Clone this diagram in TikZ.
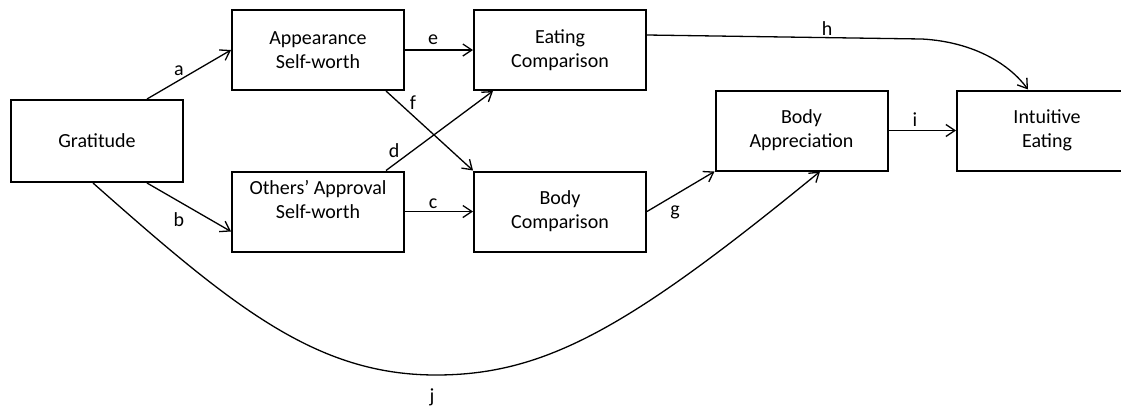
\documentclass[tikz,border=0pt]{standalone}
\usepackage{fontspec}
\setmainfont{Carlito}
\usetikzlibrary{arrows.meta}

\tikzset{
  var/.style={draw, line width=2pt, minimum width=172pt, minimum height=80pt,
    inner sep=0pt, align=center, font=\fontsize{20}{24}\selectfont},
  link/.style={line width=1.3pt, -{Straight Barb[length=9pt,width=12pt]}},
  lbl/.style={inner sep=0pt, font=\fontsize{20}{24}\selectfont}
}

\begin{document}
\begin{tikzpicture}[x=1pt,y=-1pt]
\useasboundingbox (0,0) rectangle (1121,408);
% variables
\node[var, minimum height=82pt] (grat) at (97,141) {Gratitude};
\node[var] (asw) at (318,50) {Appearance\\Self-worth};
\node[var] (oasw) at (318,211.5) {Others’ Approval\\Self-worth\\\mbox{}};
\node[var] (ec) at (560,50) {Eating\\Comparison};
\node[var] (bc) at (560,211.5) {Body\\Comparison};
\node[var] (ba) at (801.5,130.5) {Body\\Appreciation};
\node[var, minimum width=180pt] (ie) at (1047,130.5) {Intuitive\\Eating};
% bends
\coordinate (hbend) at (922,39);
\coordinate (jlow) at (436,375);
% paths
\draw[link] ([xshift=50]grat.north) -- (asw.west);
\draw[link] ([xshift=50]grat.south) -- ([yshift=-20]oasw.west);
\draw[link] (oasw.east) -- (bc.west);
\draw[link] ([xshift=68]oasw.north) -- ([xshift=-67]ec.south);
\draw[link] (asw.east) -- (ec.west);
\draw[link] ([xshift=68]asw.south) -- (bc.north west);
\draw[link] (bc.east) -- (ba.south west);
\draw[link] ([yshift=15]ec.east) -- (hbend)
  .. controls (975,42) and (1010,65) .. ([xshift=-19]ie.north);
\draw[link] (ba.east) -- (ie.west);
\draw[link] ([xshift=-4]grat.south) .. controls (233,307) and (316,375) .. (jlow)
  .. controls (546,375) and (630,327) .. ([xshift=18.5]ba.south);
% labels
\node[lbl] (la) at (179,71) {a};
\node[lbl] (lb) at (179,220) {b};
\node[lbl] (lc) at (433,204) {c};
\node[lbl] (ld) at (394,151) {d};
\node[lbl] (le) at (433,40) {e};
\node[lbl] (lf) at (413,103) {f};
\node[lbl] (lg) at (675,212) {g};
\node[lbl] (lh) at (827,29) {h};
\node[lbl] (li) at (915,120) {i};
\node[lbl] (lj) at (432,397) {j};
\end{tikzpicture}
\end{document}
